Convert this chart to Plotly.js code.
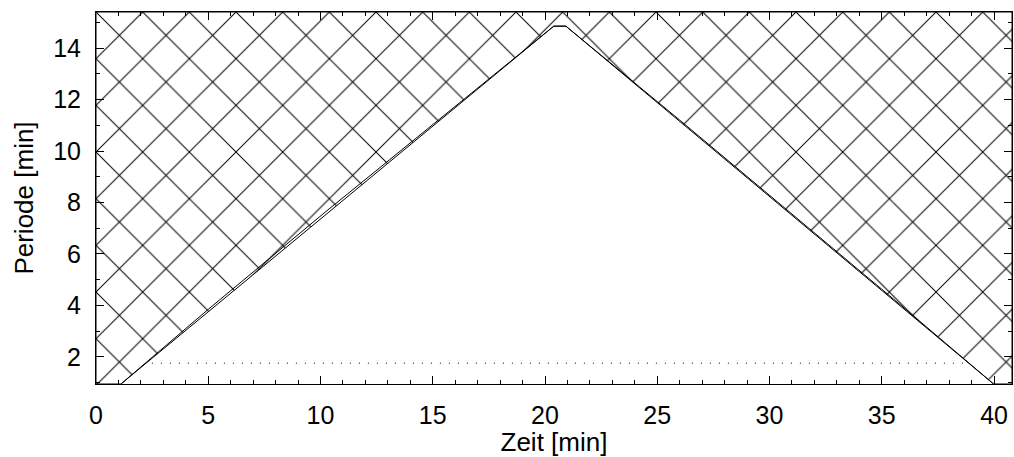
<!DOCTYPE html>
<html>
<head>
<meta charset="utf-8">
<script src="https://cdn.plot.ly/plotly-3.0.1.min.js"></script>
<style>html,body{margin:0;padding:0;background:#fff;}#chart{width:1014px;height:457px;}</style>
</head>
<body>
<div id="chart"></div>
<script>
// Cone of influence (hatched region outside the cone)
var coneX = [0, 1.11, 20.39, 20.93, 39.98, 40.8];
var coneY = [0.95, 0.95, 14.85, 14.85, 0.95, 0.95];
// second COI contour (slightly different sampling)
var coiX = [1.11, 5.0, 10.2, 15.3, 20.39, 20.93, 26.0, 31.0, 36.0, 39.98];
var coiY = [0.95, 3.85, 7.62, 11.25, 14.85, 14.85, 11.2, 7.55, 3.9, 0.95];
// dotted level
var dotX = [2.49, 38.9];
var dotY = [1.76, 1.76];
var xRange = [0, 40.8];
var yRange = [0.95, 15.4];
var xTicks = [0, 5, 10, 15, 20, 25, 30, 35, 40];
var yTicks = [2, 4, 6, 8, 10, 12, 14];

// hatched polygon: outside the cone
var polyX = [xRange[0], xRange[0]].concat(coneX).concat([xRange[1], xRange[0]]);
var polyY = [yRange[1], yRange[0]].concat(coneY).concat([yRange[1], yRange[1]]);

var traces = [
  {x: polyX, y: polyY, type: 'scatter', mode: 'lines', fill: 'toself',
   fillcolor: 'white',
   fillpattern: {shape: 'x', size: 33, solidity: 0.06, fgcolor: 'black', bgcolor: 'white'},
   line: {color: 'black', width: 1}, hoverinfo: 'skip', showlegend: false},
  {x: coiX, y: coiY, type: 'scatter', mode: 'lines',
   line: {color: 'black', width: 1}, showlegend: false},
  {x: dotX, y: dotY, type: 'scatter', mode: 'lines',
   line: {color: 'black', width: 1, dash: '1px,8px'}, showlegend: false}
];

var tickFont = {family: 'Liberation Sans, Arial, sans-serif', size: 25, color: 'black'};
var titleFont = {family: 'Liberation Sans, Arial, sans-serif', size: 26, color: 'black'};
var layout = {
  width: 1014, height: 457,
  margin: {l: 96, r: 2, t: 12, b: 73, pad: 0},
  paper_bgcolor: 'white', plot_bgcolor: 'white',
  font: tickFont,
  showlegend: false,
  xaxis: {
    range: xRange, tickvals: xTicks, ticktext: xTicks.map(String),
    ticks: 'inside', ticklen: 8, tickwidth: 1, tickcolor: 'black',
    minor: {dtick: 1, ticks: 'inside', ticklen: 4, tickwidth: 1, tickcolor: 'black', tick0: 0},
    showline: true, linecolor: 'black', linewidth: 1, mirror: 'ticks',
    showgrid: false, zeroline: false, ticklabelstandoff: 9, tickfont: tickFont,
    title: {text: 'Zeit [min]', font: titleFont, standoff: 3}
  },
  yaxis: {
    range: yRange, tickvals: yTicks, ticktext: yTicks.map(String),
    ticks: 'inside', ticklen: 8, tickwidth: 1, tickcolor: 'black',
    minor: {dtick: 1, ticks: 'inside', ticklen: 4, tickwidth: 1, tickcolor: 'black', tick0: 0},
    showline: true, linecolor: 'black', linewidth: 1, mirror: 'ticks',
    showgrid: false, zeroline: false, ticklabelstandoff: 9, tickfont: tickFont,
    title: {text: 'Periode [min]', font: titleFont, standoff: 12}
  }
};
Plotly.newPlot('chart', traces, layout, {staticPlot: true, displayModeBar: false});
</script>
</body>
</html>
